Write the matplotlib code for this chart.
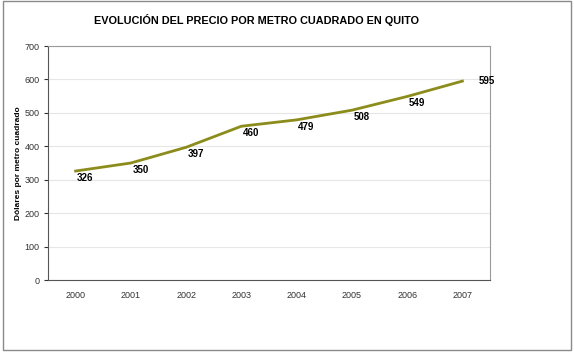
import matplotlib.pyplot as plt
from matplotlib.patches import Rectangle

plt.rcParams['font.family'] = ['Liberation Sans', 'DejaVu Sans']

# Data
years = ['2000', '2001', '2002', '2003', '2004', '2005', '2006', '2007']
precios = [326, 350, 397, 460, 479, 508, 549, 595]

fig = plt.figure(figsize=(5.74, 3.52), dpi=100)
ax = fig.add_axes([48 / 574, 1 - 280 / 352, 442 / 574, 234 / 352])

x = list(range(len(years)))
ax.plot(x, precios, color='#8c8c1c', linewidth=2.0, solid_joinstyle='round')

# Data labels
for i, v in enumerate(precios):
    if i == len(precios) - 1:
        ax.annotate(str(v), (i, v), xytext=(12, 0), textcoords='offset points',
                    ha='left', va='center', fontsize=7, fontweight='bold')
    else:
        ax.annotate(str(v), (i, v), xytext=(7, -5), textcoords='offset points',
                    ha='center', va='center', fontsize=7, fontweight='bold')

ax.set_xlim(-0.5, len(years) - 0.5)
ax.set_ylim(0, 700)
ax.set_yticks(range(0, 701, 100))
ax.set_xticks(x)
ax.set_xticklabels(years)
ax.tick_params(labelsize=6.5, length=0, pad=8, colors='#333333')
ax.tick_params(axis='y', length=3, pad=3)
ax.grid(axis='y', color='#e6e6e6', linewidth=0.8)
ax.set_axisbelow(True)
for side in ['top', 'right']:
    ax.spines[side].set_color('#9a9a9a')
for side in ['left', 'bottom']:
    ax.spines[side].set_color('#555555')
ax.set_ylabel('Dólares por metro cuadrado', fontsize=6, fontweight='bold', labelpad=2)

fig.text(257 / 574, 1 - 20 / 352, 'EVOLUCIÓN DEL PRECIO POR METRO CUADRADO EN QUITO',
         ha='center', va='center', fontsize=7.8, fontweight='bold')

# Outer frame
fig.patches.append(Rectangle((3 / 574, 2 / 352), 568 / 574, 349 / 352,
                             transform=fig.transFigure, fill=False,
                             edgecolor='#8a8a8a', linewidth=1.0))

fig.savefig('out.png', dpi=100)
